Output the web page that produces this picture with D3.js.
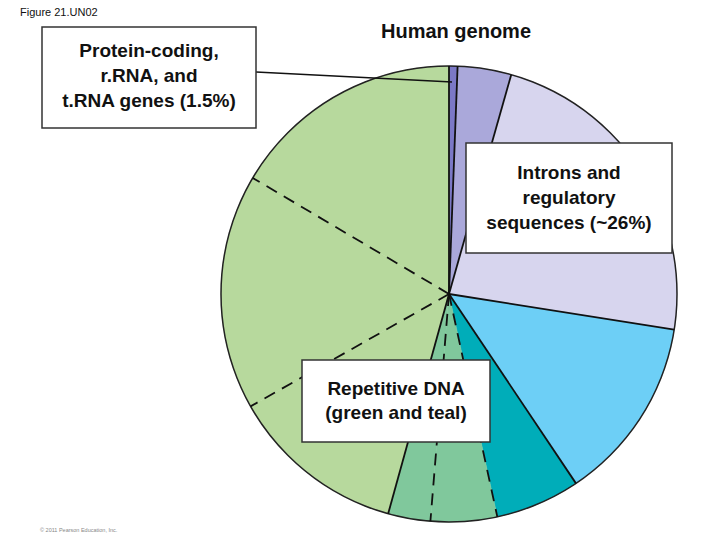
<!DOCTYPE html><html><head><meta charset="utf-8"><script src="https://cdn.jsdelivr.net/npm/d3@7"></script>
<style>body{margin:0;background:#fff}</style></head><body><svg id="c" width="720" height="540"></svg><script>
const categories=["Protein-coding","Introns (purple)","Introns/regulatory","Unique noncoding","Repeat teal","Repeat green 1","Repeat green 2","Repeat light 1","Repeat light 2","Repeat light 3"];
const values=[0.6,3.8,23.1,13.1,6.0,4.7,3.0,12.5,16.7,16.5];
const colors=["#7b78c6","#aaa8da","#d7d5ee","#6dcff6","#00adb9","#80c89c","#80c89c","#b7d99d","#b7d99d","#b7d99d"];
const dashedStart=[false,false,false,false,false,true,true,false,true,true];
const svg=d3.select("#c");
const cx=449,cy=294,R=228;
const g=svg.append("g").attr("transform",`translate(${cx},${cy})`);
const arcs=d3.pie().sort(null).value(d=>d)(values);
const arc=d3.arc().innerRadius(0).outerRadius(R);
g.selectAll("path.s").data(arcs).join("path").attr("d",arc).attr("fill",(d,i)=>colors[i]).attr("stroke",(d,i)=>colors[i]).attr("stroke-width",0.5);
g.append("circle").attr("r",R).attr("fill","none").attr("stroke","#222").attr("stroke-width",1.5);
g.selectAll("line.b").data(arcs).join("line").attr("x1",0).attr("y1",0)
 .attr("x2",d=>R*Math.sin(d.startAngle)).attr("y2",d=>-R*Math.cos(d.startAngle))
 .attr("stroke","#111").attr("stroke-width",1.8).attr("stroke-dasharray",(d,i)=>dashedStart[i]?"12,8":null);
svg.append("line").attr("x1",256).attr("y1",72).attr("x2",cx+3).attr("y2",cy-212).attr("stroke","#111").attr("stroke-width",1.5);
function box(x,y,w,h,lines,tx,ty0,dy){
 svg.append("rect").attr("x",x).attr("y",y).attr("width",w).attr("height",h).attr("fill","#fff").attr("stroke","#333").attr("stroke-width",1.5);
 lines.forEach((t,i)=>svg.append("text").attr("x",tx).attr("y",ty0+i*dy).attr("text-anchor","middle").attr("font-family","Liberation Sans, Arial").attr("font-weight","bold").attr("font-size",19).attr("fill","#111").text(t));
}
box(42,27,214,101,["Protein-coding,","r.RNA, and","t.RNA genes (1.5%)"],149,57,25);
box(466,143,206,110,["Introns and","regulatory","sequences (~26%)"],569,179,25);
box(302,360,188,82,["Repetitive DNA","(green and teal)"],396,395,24);
svg.append("text").attr("x",456).attr("y",38).attr("text-anchor","middle").attr("font-family","Liberation Sans, Arial").attr("font-weight","bold").attr("font-size",20).attr("fill","#111").text("Human genome");
svg.append("text").attr("x",20).attr("y",16).attr("font-family","Liberation Sans, Arial").attr("font-size",11).attr("fill","#111").text("Figure 21.UN02");
svg.append("text").attr("x",40).attr("y",532).attr("font-family","Liberation Sans, Arial").attr("font-size",5.5).attr("fill","#888").text("© 2011 Pearson Education, Inc.");
</script></body></html>
